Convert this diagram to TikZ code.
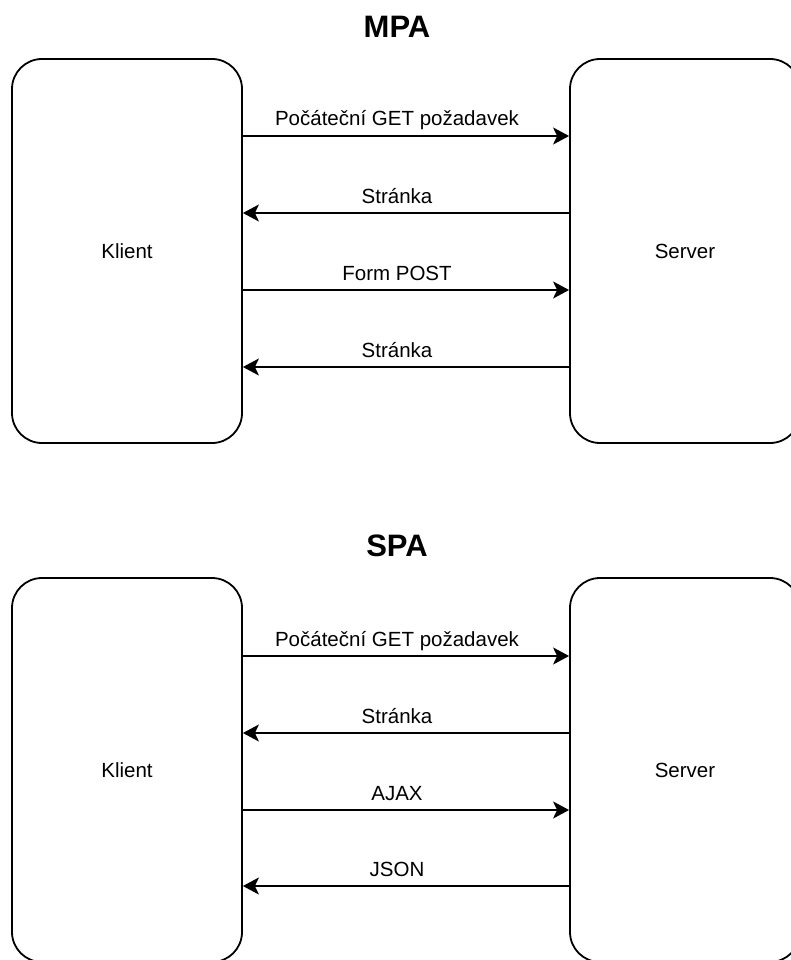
\documentclass[tikz,border=0pt]{standalone}
\usepackage{fontspec}
\setmainfont{Liberation Sans}
\usetikzlibrary{arrows.meta}

\tikzset{
  party/.style={draw=black, line width=1.8pt, rounded corners=30pt,
    minimum width=230pt, minimum height=384pt, inner sep=0pt,
    font=\fontsize{20.5}{24}\selectfont},
  heading/.style={font=\fontsize{31}{36}\selectfont\bfseries, inner sep=0pt},
  msg/.style={line width=1.8pt, -{Stealth[length=16pt, width=17pt, inset=4pt]}},
  lbl/.style={font=\fontsize{20.5}{24}\selectfont, inner sep=0pt, anchor=base,
    midway, xshift=-9pt, yshift=10pt}
}

\begin{document}
\begin{tikzpicture}[x=1pt, y=-1pt]
  \clip (0,0) rectangle (791,960);

  % ---------- multi-page application ----------
  \node[heading] (tmpa) at (397,26.5) {MPA};
  \node[party] (k1) at (127,251) {Klient};
  \node[party] (s1) at (685,251) {Server};

  \draw[msg] ([yshift=115pt]k1.east) -- ([yshift=115pt]s1.west)
    node[lbl] (m1) {Počáteční GET požadavek};
  \draw[msg] ([yshift=38pt]s1.west) -- ([yshift=38pt]k1.east)
    node[lbl] (m2) {Stránka};
  \draw[msg] ([yshift=-39pt]k1.east) -- ([yshift=-39pt]s1.west)
    node[lbl] (m3) {Form POST};
  \draw[msg] ([yshift=-116pt]s1.west) -- ([yshift=-116pt]k1.east)
    node[lbl] (m4) {Stránka};

  % ---------- single-page application ----------
  \node[heading] (tspa) at (397,546) {SPA};
  \node[party] (k2) at (127,770) {Klient};
  \node[party] (s2) at (685,770) {Server};

  \draw[msg] ([yshift=114pt]k2.east) -- ([yshift=114pt]s2.west)
    node[lbl] (n1) {Počáteční GET požadavek};
  \draw[msg] ([yshift=37pt]s2.west) -- ([yshift=37pt]k2.east)
    node[lbl] (n2) {Stránka};
  \draw[msg] ([yshift=-40pt]k2.east) -- ([yshift=-40pt]s2.west)
    node[lbl] (n3) {AJAX};
  \draw[msg] ([yshift=-116pt]s2.west) -- ([yshift=-116pt]k2.east)
    node[lbl] (n4) {JSON};
\end{tikzpicture}
\end{document}
